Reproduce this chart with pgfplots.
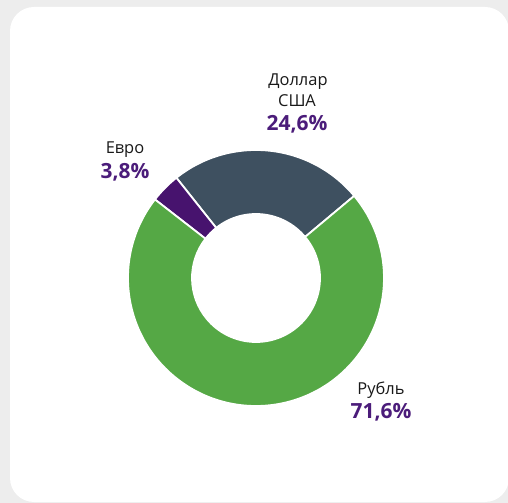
\documentclass[border=0pt]{standalone}
\usepackage{pgfplots}
\pgfplotsset{compat=1.18}
\usepackage{pgfplotstable}
\usepackage{fontspec}
\setmainfont{Open Sans}
\definecolor{bg}{HTML}{EDEDED}
\definecolor{rub}{HTML}{55A845}
\definecolor{usd}{HTML}{3E5060}
\definecolor{eur}{HTML}{47136E}
\definecolor{lab}{HTML}{4B1C7A}
\newcommand\slice[3]{%
  \fill[#3,draw=white,line width=1.8bp]
    (axis cs:{cos(#1)},{sin(#1)}) arc[start angle=#1,end angle=#2,radius=128bp]
    -- (axis cs:{0.5*cos(#2)},{0.5*sin(#2)}) arc[start angle=#2,end angle=#1,radius=64bp]
    -- cycle;}
\pgfplotstableread{
name value
usd 24.6
eur 3.8
rub 71.6
}\shares
\begin{document}
\begin{tikzpicture}
\pgfplotstablegetelem{0}{value}\of\shares \let\vUSD\pgfplotsretval
\pgfplotstablegetelem{1}{value}\of\shares \let\vEUR\pgfplotsretval
\pgfplotstablegetelem{2}{value}\of\shares \let\vRUB\pgfplotsretval
\pgfmathsetmacro\aA{39.9}
\pgfmathsetmacro\aB{\aA+3.6*\vUSD}
\pgfmathsetmacro\aC{\aB+3.6*\vEUR}
\pgfmathsetmacro\aD{\aC+3.6*\vRUB}
\begin{scope}
\clip (0,0) rectangle (508bp,503bp);
\fill[bg] (0,0) rectangle (508bp,503bp);
\fill[white,rounded corners=24bp] (10bp,1bp) rectangle (509bp,496bp);
\end{scope}
\begin{axis}[at={(256bp,225bp)},anchor=center,width=256bp,height=256bp,
  scale only axis,xmin=-1,xmax=1,ymin=-1,ymax=1,hide axis,clip=false]
  \slice{\aA}{\aB}{usd}
  \slice{\aB}{\aC}{eur}
  \slice{\aC}{\aD}{rub}
\end{axis}
\tikzset{lbl/.style={anchor=base,font=\fontsize{16.5}{19}\selectfont,text=black!90},
         pct/.style={anchor=base,font=\fontsize{21}{24}\selectfont\bfseries,text=lab}}
\node[lbl] at (298bp,417bp) {Доллар};
\node[lbl] at (297bp,396bp) {США};
\node[pct] at (297bp,372bp) {24,6\%};
\node[lbl] at (125bp,349bp) {Евро};
\node[pct] at (125bp,324bp) {3,8\%};
\node[lbl] at (381bp,108bp) {Рубль};
\node[pct] at (381bp,84bp) {71,6\%};
\pgfresetboundingbox
\useasboundingbox (0,0) rectangle (508bp,503bp);
\end{tikzpicture}%
\end{document}
